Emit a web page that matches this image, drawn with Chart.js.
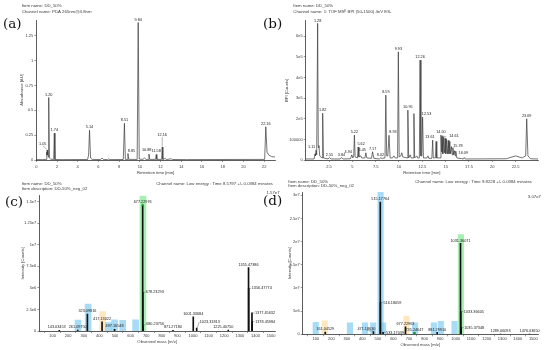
<!DOCTYPE html>
<html>
<head>
<meta charset="utf-8">
<script src="https://cdn.jsdelivr.net/npm/chart.js@4.4.1/dist/chart.umd.min.js"></script>
<style>
  html, body { margin: 0; padding: 0; background: #fff; }
  #wrap { position: relative; width: 550px; height: 350px; overflow: hidden; }
  #wrap canvas { position: absolute; left: 0; top: 0; }
</style>
</head>
<body>
<div id="wrap">
  <canvas id="chartA" width="550" height="350"></canvas>
  <canvas id="chartB" width="550" height="350"></canvas>
  <canvas id="chartC" width="550" height="350"></canvas>
  <canvas id="chartD" width="550" height="350"></canvas>
</div>
<script>
'use strict';

// (a) PDA chromatogram at 265 nm
const pdaTime = [
  0, 0.60, 0.95, 1.00, 1.03, 1.05, 1.08, 1.12, 1.16, 1.20, 1.26, 1.40,
  1.68, 1.74, 1.80, 2.50, 4.95, 5.05, 5.14, 5.24, 5.40,
  6.20, 6.35, 6.50, 6.90, 7.00, 7.10, 8.40, 8.51, 8.60, 8.78, 8.85, 8.92,
  9.74, 9.84, 9.94, 10.30, 10.45, 10.60, 10.82, 10.88, 10.95,
  11.52, 11.58, 11.64, 12.10, 12.16, 12.22, 12.45, 12.55, 13.05, 13.15,
  14.50, 22.05, 22.16, 22.28, 22.45, 22.70, 23.05
];
const pdaAbs = [
  0.004, 0.004, 0.006, 0.08, 0.05, 0.10, 0.05, 0.07, 0.03, 0.63, 0.02, 0.008,
  0.005, 0.27, 0.005, 0.004, 0.005, 0.05, 0.30, 0.02, 0.006,
  0.004, 0.02, 0.005, 0.004, 0.012, 0.004, 0.005, 0.37, 0.006, 0.006, 0.065, 0.006,
  0.006, 1.385, 0.010, 0.006, 0.02, 0.006, 0.006, 0.06, 0.006,
  0.006, 0.055, 0.006, 0.006, 0.13, 0.006, 0.015, 0.005, 0.012, 0.005,
  0.004, 0.006, 0.335, 0.08, 0.05, 0.035, 0.03
];
const pdaPeaks = ['1.05', '1.20', '1.74', '5.14', '8.51', '8.85', '9.84', '10.88', '11.58', '12.16', '22.16'];
const pdaTicksX = [0, 2, 4, 6, 8, 10, 12, 14, 16, 18, 20, 22];
const pdaTicksY = [0, 0.25, 0.5, 0.75, 1, 1.25];

// (b) TOF MSE base peak intensity chromatogram
const bpiTime = [
  0, 0.90, 1.00, 1.05, 1.11, 1.16, 1.20, 1.28, 1.35, 1.42, 1.50,
  1.75, 1.82, 1.90, 2.40, 2.55, 2.70, 3.70, 3.84, 4.00,
  4.80, 4.94, 5.05, 5.15, 5.22, 5.30, 5.55, 5.62, 5.70, 5.90, 6.00,
  6.35, 6.45, 6.55, 7.05, 7.17, 7.30, 7.90, 8.02, 8.20,
  8.50, 8.59, 8.68, 8.80, 8.93, 9.05, 9.30, 9.45, 9.60,
  9.85, 9.93, 10.02, 10.20, 10.30, 10.40, 10.87, 10.95, 11.04, 11.20, 11.30,
  11.52, 11.60, 11.68, 11.90, 12.00, 12.18, 12.26, 12.35, 12.45, 12.53, 12.62,
  13.00, 13.10, 13.20, 13.52, 13.61, 13.68, 13.90, 13.98, 14.05,
  14.42, 14.50, 14.56, 14.61, 14.70, 14.80, 14.88, 14.95, 15.02, 15.10, 15.20,
  15.28, 15.36, 15.45, 15.52, 15.62, 15.70, 15.78, 15.86, 15.95, 16.02, 16.09, 16.20,
  16.90, 17.00, 17.10, 21.50, 22.50, 23.20, 23.58, 23.69, 23.82, 24.10, 24.90
];
const bpiCounts = [
  5000, 5000, 30000, 20000, 48000, 25000, 50000, 663000, 60000, 70000, 20000,
  10000, 227000, 10000, 5000, 12000, 5000, 5000, 12000, 5000,
  6000, 25000, 10000, 20000, 121000, 15000, 10000, 63000, 15000, 20000, 10000,
  10000, 35000, 10000, 8000, 40000, 8000, 5000, 10000, 8000,
  10000, 315000, 20000, 20000, 120000, 10000, 10000, 20000, 10000,
  10000, 525000, 15000, 20000, 35000, 15000, 10000, 242000, 10000, 25000, 10000,
  10000, 225000, 10000, 20000, 10000, 10000, 485000, 20000, 20000, 208000, 10000,
  10000, 20000, 8000, 8000, 97000, 10000, 10000, 90000, 10000,
  10000, 121000, 40000, 115000, 30000, 110000, 35000, 105000, 30000, 100000, 30000,
  95000, 30000, 90000, 30000, 65000, 25000, 60000, 25000, 45000, 20000, 42000, 10000,
  5000, 12000, 5000, 6000, 20000, 10000, 20000, 200000, 20000, 6000, 5000
];
const bpiPeaks = ['1.11', '1.28', '1.82', '2.55', '3.84', '4.94', '5.22', '5.62', '6.45', '7.17', '8.02',
  '8.59', '8.93', '9.93', '10.95', '12.26', '12.53', '13.61', '14.50', '14.61', '15.78', '16.09', '23.69'];
const bpiTicksX = [2.5, 5, 7.5, 10, 12.5, 15, 17.5, 20, 22.5];
const bpiTicksY = [0, 100000, 200000, 300000, 400000, 500000, 600000];

// (c) low energy spectrum at 8.5797 min
const specCMass = [143.03453, 261.09750, 323.09816, 417.13022, 497.16548, 677.22976, 678.23293, 680.23756,
  871.27180, 1001.33684, 1023.31813, 1225.40750, 1355.47386, 1356.47774, 1377.45632, 1378.45984];
const specCInt = [0.08e6, 0.12e6, 1.95e6, 1.05e6, 0.2e6, 1.46e7, 4.5e6, 0.6e6,
  0.08e6, 1.65e6, 0.35e6, 0.1e6, 7.35e6, 4.95e6, 2.1e6, 1.1e6];
const specCMarks = [677.22976];
const hlCMass = [263, 328, 421, 458, 497, 549, 632, 679];
const hlCInt = [1.28e6, 3.13e6, 2.24e6, 0.98e6, 1.3e6, 1.25e6, 1.3e6, 1.57e7];
const hlCKind = ['b', 'b', 'y', 'b', 'b', 'b', 'b', 'g'];
const specCTicksY = [0, 2.5e6, 5e6, 7.5e6, 1e7, 1.25e7, 1.5e7];

// (d) low energy spectrum at 9.8228 min
const specDMass = [161.04529, 471.18630, 515.17764, 516.18059, 533.17039, 677.22963, 735.24647,
  881.29910, 1031.36071, 1033.36605, 1035.37348, 1289.06093, 1476.03650];
const specDInt = [0.5e6, 0.6e6, 2.85e7, 6.85e6, 0.4e6, 1.6e6, 0.3e6,
  0.4e6, 1.96e7, 4.9e6, 1.45e6, 0.05e6, 0.05e6];
const specDMarks = [735.24647];
const hlDMass = [100, 158, 320, 417, 470, 517, 533, 684, 739, 860, 905, 993, 1034];
const hlDInt = [2.6e6, 2.9e6, 2.5e6, 2.5e6, 2.5e6, 3.07e7, 2.5e6, 3.9e6, 2.5e6, 2.5e6, 2.8e6, 2.8e6, 2.15e7];
const hlDKind = ['b', 'y', 'b', 'b', 'b', 'b', 'b', 'y', 'b', 'b', 'b', 'b', 'g'];
const specDTicksY = [0, 5e6, 1e7, 1.5e7, 2e7, 2.5e7, 3e7];

const massTicks = [100, 200, 300, 400, 500, 600, 700, 800, 900, 1000, 1100, 1200, 1300, 1400, 1500];

const TXT = '#3a3a3a';
const SANS = '"Liberation Sans", Arial, sans-serif';
const SERIF = '13.5px "DejaVu Serif", serif';
const HEAD = '4.3px ' + SANS;
const HL = { b: 'rgba(110, 195, 240, 0.6)', y: 'rgba(250, 212, 140, 0.55)', g: 'rgba(95, 225, 115, 0.55)' };

Chart.defaults.font.family = SANS;
Chart.defaults.font.size = 4;
Chart.defaults.color = TXT;

const plain = v => String(v);
const expo = v => (v === 0 ? '0' : v.toExponential().replace('+', ''));
const bpiFmt = v => (v <= 100000 ? String(v) : expo(v));

function xAxis(min, max, ticks, fmt, height, title, pad) {
    return {
        type: 'linear', position: 'bottom', min: min, max: max, offset: false,
        afterBuildTicks: s => { s.ticks = ticks.map(v => ({ value: v })); },
        afterFit: s => { s.height = height; },
        ticks: { callback: fmt, padding: pad, maxRotation: 0, autoSkip: false, color: TXT, font: { size: 4 } },
        grid: { drawOnChartArea: false, tickLength: 2, color: '#555', lineWidth: 0.6 },
        border: { color: '#333', width: 0.8 },
        title: { display: true, text: title, padding: 0, color: TXT, font: { size: 4.2 } }
    };
}

function yAxis(min, max, ticks, fmt, width, title) {
    return {
        type: 'linear', position: 'left', min: min, max: max,
        afterBuildTicks: s => { s.ticks = ticks.map(v => ({ value: v })); },
        afterFit: s => { s.width = width; },
        ticks: { callback: fmt, padding: 1, autoSkip: false, color: TXT, font: { size: 4 } },
        grid: { drawOnChartArea: false, tickLength: 2, color: '#555', lineWidth: 0.6 },
        border: { color: '#333', width: 0.8 },
        title: { display: true, text: title, padding: 0, color: TXT, font: { size: 4.2 } }
    };
}

// highest point of a trace close to a labelled retention time
function apex(times, vals, t) {
    let best = 0;
    times.forEach((tt, i) => {
        if (Math.abs(tt - t) < 0.05 && vals[i] > best) best = vals[i];
    });
    return best;
}

function labelPlugin(items, shift, side) {
    return {
        id: 'peakLabels',
        afterDatasetsDraw(chart) {
            const { ctx, scales: { x, y } } = chart;
            ctx.save();
            ctx.font = '3.8px ' + SANS;
            ctx.fillStyle = '#222';
            ctx.strokeStyle = '#444';
            ctx.lineWidth = 0.4;
            items.forEach(it => {
                const px = x.getPixelForValue(it.x);
                const py = y.getPixelForValue(it.y);
                const sh = shift[it.text] || [0, 0];
                if (side.includes(it.text)) {
                    const ty = py + sh[1];
                    ctx.beginPath();
                    ctx.moveTo(px + 0.5, py);
                    ctx.lineTo(px + 2.5, ty);
                    ctx.stroke();
                    ctx.textAlign = 'left';
                    ctx.textBaseline = 'middle';
                    ctx.fillText(it.text, px + 3, ty);
                } else {
                    const tx = px + sh[0];
                    const ty = py - 1 + sh[1];
                    if (Math.abs(sh[0]) > 6 || sh[1] < -3) {
                        ctx.beginPath();
                        ctx.moveTo(px, py - 0.5);
                        ctx.lineTo(tx - (sh[0] > 6 ? 8 : 0), ty + (sh[0] > 6 ? -1.5 : 0));
                        ctx.stroke();
                    }
                    ctx.textAlign = 'center';
                    ctx.textBaseline = 'bottom';
                    ctx.fillText(it.text, tx, ty);
                }
            });
            ctx.restore();
        }
    };
}

function notesPlugin(notes) {
    return {
        id: 'notes',
        afterDraw(chart) {
            const ctx = chart.ctx;
            ctx.save();
            notes.forEach(n => {
                ctx.font = n.font || HEAD;
                ctx.fillStyle = n.color || TXT;
                ctx.textAlign = n.align || 'left';
                ctx.textBaseline = 'middle';
                ctx.fillText(n.text, n.x, n.y);
            });
            ctx.restore();
        }
    };
}

function baseOptions(padding, scales) {
    return {
        responsive: false,
        animation: false,
        layout: { padding: padding },
        plugins: { legend: { display: false }, tooltip: { enabled: false } },
        scales: scales
    };
}

// ---------- (a) ----------
new Chart(document.getElementById('chartA'), {
    type: 'line',
    data: {
        datasets: [{
            data: pdaTime.map((t, i) => ({ x: t, y: pdaAbs[i] })),
            borderColor: '#3a3a3a', borderWidth: 0.7, pointRadius: 0, tension: 0
        }]
    },
    options: baseOptions({ left: 19, top: 20, right: 275, bottom: 174.3 }, {
        x: xAxis(0, 23.05, pdaTicksX, plain, 15.7, 'Retention time [min]', 2.5),
        y: yAxis(0, 1.41, pdaTicksY, plain, 17.3, 'Absorbance [AU]')
    }),
    plugins: [
        labelPlugin(pdaPeaks.map(t => ({ text: t, x: +t, y: apex(pdaTime, pdaAbs, +t) })),
            { '1.05': [-4.5, -3.5], '8.85': [3.5, 0], '10.88': [-2.3, -1.5], '11.58': [0, -1], '12.16': [0, -9] }, []),
        notesPlugin([
            { text: 'Item name: DD_50%', x: 21.7, y: 6 },
            { text: 'Channel name: PDA 265nm@4.8nm', x: 21.7, y: 12.3 },
            { text: '(a)', x: 3, y: 24, font: SERIF, color: '#111' }
        ])
    ]
});

// ---------- (b) ----------
new Chart(document.getElementById('chartB'), {
    type: 'line',
    data: {
        datasets: [{
            data: bpiTime.map((t, i) => ({ x: t, y: bpiCounts[i] })),
            borderColor: '#3a3a3a', borderWidth: 0.7, pointRadius: 0, tension: 0
        }]
    },
    options: baseOptions({ left: 284, top: 20.7, right: 12, bottom: 174.3 }, {
        x: xAxis(0, 24.9, bpiTicksX, plain, 15.7, 'Retention time [min]', 2.5),
        y: yAxis(0, 676000, bpiTicksY, bpiFmt, 21.7, 'BPI [Counts]')
    }),
    plugins: [
        labelPlugin(bpiPeaks.map(t => ({ text: t, x: +t, y: apex(bpiTime, bpiCounts, +t) })),
            { '1.11': [-4.4, 0], '4.94': [-3.5, 0], '5.62': [3, 0], '6.45': [-3.6, 0], '8.93': [4, 0],
              '12.53': [4, 0], '13.61': [-2.7, 0], '14.61': [12, 3], '15.78': [5, 1.5], '16.09': [7.5, 4.5] }, []),
        notesPlugin([
            { text: 'Item name: DD_50%', x: 293.3, y: 6 },
            { text: 'Channel name: 1: TOF MSᴱ BPI (50-1500) 4eV ES-', x: 293.3, y: 12.3 },
            { text: '(b)', x: 263, y: 24, font: SERIF, color: '#111' }
        ])
    ]
});

// ---------- spectra ----------
function spectrum(id, mass, ints, marks, markStyle, hlMass, hlInt, hlKind, hlWidth) {
    return [
        {
            type: 'line', order: 0, showLine: false,
            data: marks.map(m => ({ x: m, y: ints[mass.indexOf(m)] })),
            pointStyle: markStyle, pointRadius: markStyle === 'triangle' ? 2 : 1.2,
            pointBackgroundColor: '#1f9a2a', pointBorderColor: '#1f9a2a', pointBorderWidth: 0
        },
        {
            type: 'bar', order: 1, grouped: false, barThickness: 1,
            data: mass.map((m, i) => ({ x: m, y: ints[i] })),
            backgroundColor: '#111'
        },
        {
            type: 'bar', order: 2, grouped: false, barThickness: hlWidth,
            data: hlMass.map((m, i) => ({ x: m, y: hlInt[i] })),
            backgroundColor: c => HL[hlKind[c.dataIndex]]
        }
    ];
}

// ---------- (c) ----------
new Chart(document.getElementById('chartC'), {
    type: 'bar',
    data: { datasets: spectrum('c', specCMass, specCInt, specCMarks, 'triangle', hlCMass, hlCInt, hlCKind, 6) },
    options: baseOptions({ left: 20.6, top: 195.7, right: 275, bottom: 5.6 }, {
        x: xAxis(15, 1525, massTicks, plain, 13.4, 'Observed mass [m/z]', 0),
        y: yAxis(0, 1.57e7, specCTicksY, expo, 18.7, 'Intensity [Counts]')
    }),
    plugins: [
        labelPlugin(specCMass.map((m, i) => ({ text: m.toFixed(5), x: m, y: specCInt[i] })),
            { '143.03453': [-2.6, 0], '1225.40750': [-5, 0], '1023.31813': [0, -6], '680.23756': [0, -2] },
            ['678.23293', '680.23756', '1023.31813', '1356.47774', '1377.45632', '1378.45984']),
        notesPlugin([
            { text: 'Item name: DD_50%', x: 21.7, y: 184.3 },
            { text: 'Item description: DD-50%_neg_02', x: 21.7, y: 189 },
            { text: 'Channel name: Low energy : Time 8.5797 +/- 0.0384 minutes', x: 273, y: 184.3, align: 'right' },
            { text: '1.57e7', x: 266.5, y: 193 },
            { text: '(c)', x: 5, y: 202.5, font: SERIF, color: '#111' }
        ])
    ]
});

// ---------- (d) ----------
new Chart(document.getElementById('chartD'), {
    type: 'bar',
    data: { datasets: spectrum('d', specDMass, specDInt, specDMarks, 'circle', hlDMass, hlDInt, hlDKind, 5.5) },
    options: baseOptions({ left: 287.3, top: 192, right: 12, bottom: 2.3 }, {
        x: xAxis(16, 1530, massTicks, plain, 13.4, 'Observed mass [m/z]', 0),
        y: yAxis(0, 3.07e7, specDTicksY, expo, 15.4, 'Intensity [Counts]')
    }),
    plugins: [
        labelPlugin(specDMass.map((m, i) => ({ text: m.toFixed(5), x: m, y: specDInt[i] })),
            { '471.18630': [-7, 0] },
            ['516.18059', '533.17039', '1033.36605', '1035.37348']),
        notesPlugin([
            { text: 'Item name: DD_50%', x: 288.3, y: 181.7 },
            { text: 'Item description: DD-50%_neg_02', x: 288.3, y: 186 },
            { text: 'Channel name: Low energy : Time 9.8228 +/- 0.0384 minutes', x: 532, y: 181.7, align: 'right' },
            { text: '3.07e7', x: 541, y: 196.5, align: 'right' },
            { text: '(d)', x: 263, y: 201, font: SERIF, color: '#111' }
        ])
    ]
});
</script>
</body>
</html>
